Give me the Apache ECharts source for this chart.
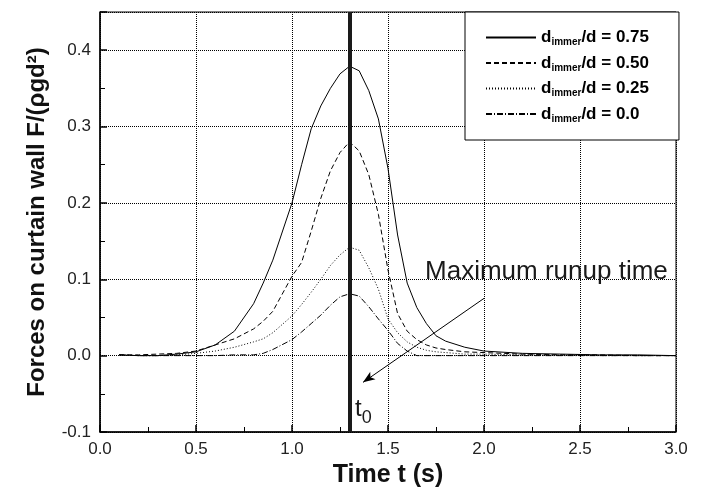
<!DOCTYPE html>
<html><head><meta charset="utf-8">
<script src="https://cdn.jsdelivr.net/npm/echarts@6/dist/echarts.min.js"></script>
<style>html,body{margin:0;padding:0;background:#fff}#c{width:704px;height:494px}</style>
</head><body><div id="c"></div>
<script>
const time = [0.1,0.2,0.3,0.4,0.5,0.6,0.7,0.8,0.85,0.9,1.0,1.05,1.1,1.15,1.2,1.25,1.3,1.35,1.4,1.45,1.5,1.55,1.6,1.65,1.7,1.75,1.8,1.9,2.0,2.2,2.4,2.6,2.8,3.0];
const f075 = [0.001,0.000,0.000,0.002,0.005,0.014,0.032,0.068,0.095,0.125,0.200,0.250,0.297,0.327,0.350,0.369,0.379,0.373,0.347,0.310,0.245,0.158,0.095,0.063,0.042,0.026,0.019,0.011,0.006,0.003,0.002,0.001,0.001,0.000];
const f050 = [0.001,0.001,0.002,0.003,0.006,0.014,0.022,0.035,0.045,0.058,0.104,0.122,0.163,0.206,0.242,0.266,0.280,0.268,0.237,0.185,0.112,0.055,0.032,0.021,0.014,0.010,0.008,0.005,0.004,0.002,0.001,0.001,0.000,0.000];
const f025 = [0.001,0.000,0.000,0.001,0.003,0.006,0.011,0.018,0.022,0.030,0.052,0.067,0.083,0.100,0.118,0.132,0.142,0.138,0.115,0.087,0.048,0.030,0.018,0.011,0.007,0.005,0.004,0.002,0.002,0.001,0.001,0.000,0.000,0.000];
const f000 = [0.001,0.000,0.000,0.000,0.000,0.000,0.001,0.001,0.003,0.008,0.021,0.031,0.042,0.053,0.066,0.077,0.081,0.078,0.064,0.048,0.033,0.016,0.006,0.000,0.000,0.000,0.000,0.000,0.000,0.000,0.000,0.000,0.000,0.000];
const ratios = ['0.75','0.50','0.25','0.0'];
const seriesValues = [f075, f050, f025, f000];
const dashTypes = ['solid',[5,3],[1,2],[6,2,1,2]];
const t0 = 1.3;
const annotationText = 'Maximum runup time';
const annotationAt = [1.693, 0.110];
const arrowFrom = [2.0, 0.075];
const arrowTo = [1.37, -0.035];
const t0LabelAt = [1.328, -0.074];
const xTitle = 'Time t (s)';
const yTitle = 'Forces on curtain wall F/(ρgd²)';

const FONT = 'Liberation Sans, Arial, Helvetica, sans-serif';
const chart = echarts.init(document.getElementById('c'), null, {renderer:'canvas'});

const series = ratios.map((r, i) => ({
  name: r,
  type: 'line',
  data: time.map((t, k) => [t, seriesValues[i][k]]),
  showSymbol: false,
  symbol: 'none',
  smooth: false,
  lineStyle: {color: '#000', width: 1, type: dashTypes[i]},
  itemStyle: {color: '#000'},
  animation: false,
  z: 3
}));

series[0].markLine = {
  silent: true, symbol: ['none','none'], animation: false,
  label: {show: false},
  lineStyle: {color: '#1a1a1a', width: 4, type: 'solid'},
  data: [{xAxis: t0}]
};
series[1].markLine = {
  silent: true, symbol: ['none','arrow'], symbolSize: [7, 12], animation: false,
  label: {show: false},
  lineStyle: {color: '#000', width: 1, type: 'solid'},
  data: [[{coord: arrowFrom}, {coord: arrowTo}]]
};
series[2].markPoint = {
  silent: true, animation: false, symbol: 'circle', symbolSize: 0,
  itemStyle: {color: 'rgba(0,0,0,0)'},
  label: {show: true, position: 'right', distance: 0, color: '#1a1a1a', fontFamily: FONT, fontSize: 26,
          formatter: annotationText},
  data: [{coord: annotationAt}]
};
series[3].markPoint = {
  silent: true, animation: false, symbol: 'circle', symbolSize: 0,
  itemStyle: {color: 'rgba(0,0,0,0)'},
  label: {show: true, position: 'right', distance: 0, color: '#1a1a1a', fontFamily: FONT,
          formatter: '{t|t}{z|0}',
          rich: {t: {fontSize: 24, fontFamily: FONT, color: '#1a1a1a', lineHeight: 30, verticalAlign: 'top'},
                 z: {fontSize: 18, fontFamily: FONT, color: '#1a1a1a', padding: [12,0,0,0], verticalAlign: 'top'}}},
  data: [{coord: t0LabelAt}]
};

const axisCommon = {
  axisLine: {show: true, onZero: false, lineStyle: {color: '#000', width: 1.5}},
  axisTick: {show: true, inside: true, length: 7, lineStyle: {color: '#000', width: 1.5}},
  minorTick: {show: true, splitNumber: 2, length: 5, lineStyle: {color: '#000', width: 1}},
  splitLine: {show: true, lineStyle: {type: 'dotted', color: '#000', width: 1}},
  axisLabel: {fontSize: 17, color: '#222', fontFamily: FONT, formatter: v => v.toFixed(1)},
  nameLocation: 'middle',
  nameTextStyle: {fontSize: 24, fontWeight: 'bold', color: '#111', fontFamily: FONT}
};

chart.setOption({
  backgroundColor: '#fff',
  animation: false,
  grid: {left: 100, right: 28, top: 12, bottom: 62, show: true, borderColor: '#000', borderWidth: 1, backgroundColor: 'transparent'},
  xAxis: Object.assign({}, axisCommon, {
    type: 'value', min: 0, max: 3, interval: 0.5,
    name: xTitle, nameGap: 30,
    nameTextStyle: Object.assign({}, axisCommon.nameTextStyle, {fontSize: 25}),
    axisLabel: Object.assign({}, axisCommon.axisLabel, {margin: 9})
  }),
  yAxis: Object.assign({}, axisCommon, {
    type: 'value', min: -0.1, max: 0.45, interval: 0.1,
    name: yTitle, nameGap: 51, nameRotate: 90,
    axisLabel: Object.assign({}, axisCommon.axisLabel, {margin: 9, showMaxLabel: false})
  }),
  legend: {
    show: true, orient: 'vertical', left: 465, top: 12,
    data: ratios,
    backgroundColor: '#fff', borderColor: '#000', borderWidth: 1,
    padding: [17, 30, 16, 20],
    itemWidth: 50, itemHeight: 14, itemGap: 7,
    itemStyle: {opacity: 0},
    formatter: name => '{d|d}{s|immer}{d|/d = ' + name + '}',
    textStyle: {
      fontFamily: FONT, color: '#000',
      rich: {
        d: {fontSize: 17, fontWeight: 'bold', fontFamily: FONT, color: '#000'},
        s: {fontSize: 10, fontWeight: 'bold', fontFamily: FONT, color: '#000', padding: [10,0,0,0]}
      }
    }
  },
  series: series
});
</script></body></html>
